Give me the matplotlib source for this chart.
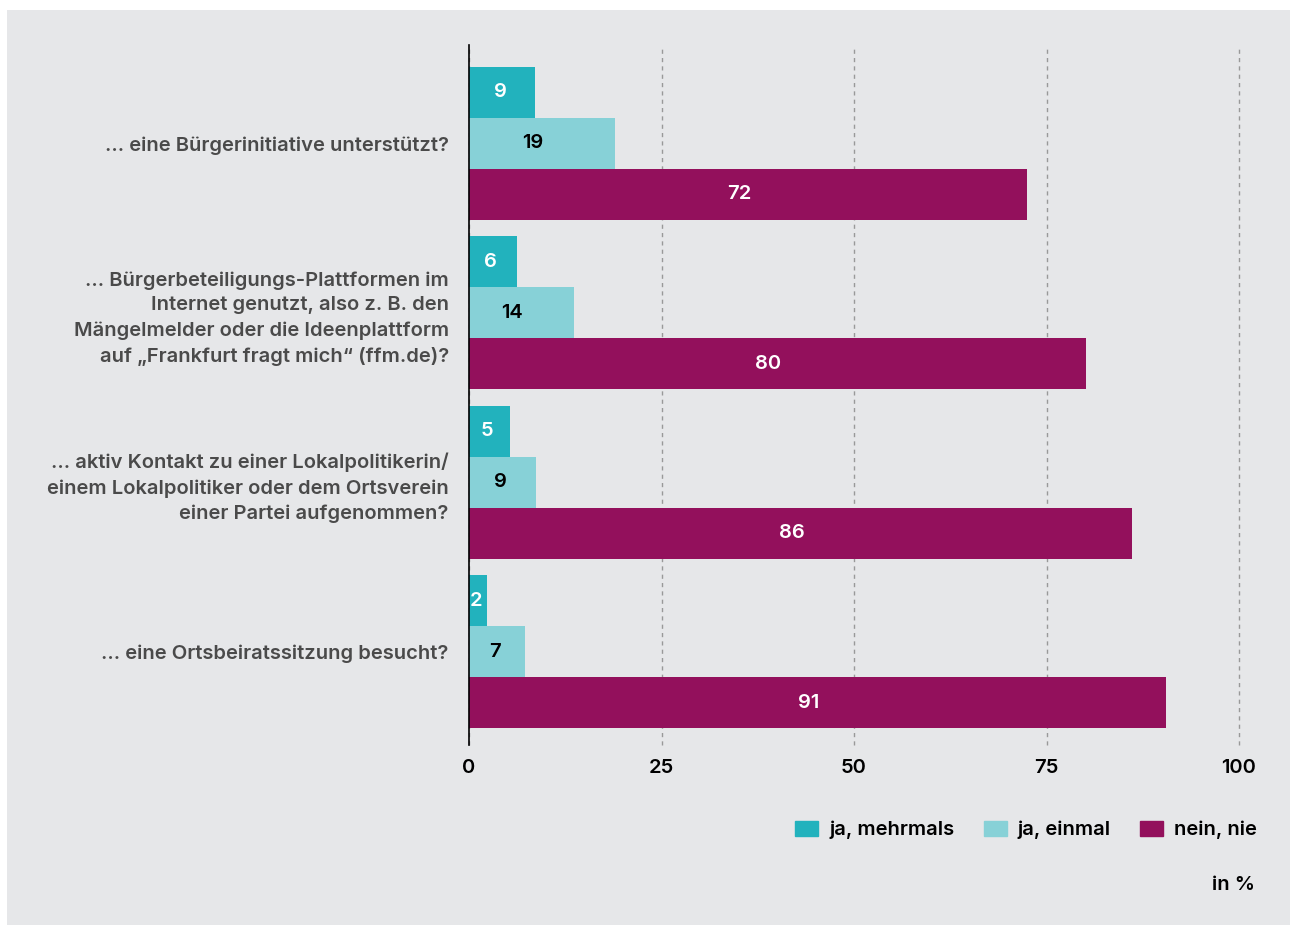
import matplotlib.pyplot as plt
import matplotlib.patches as mpatches
import numpy as np

plt.rcParams["font.family"] = ["Inter", "DejaVu Sans"]

QUESTIONS = [
    "… eine Bürgerinitiative unterstützt?",
    "… Bürgerbeteiligungs-Plattformen im\nInternet genutzt, also z. B. den\nMängelmelder oder die Ideenplattform\nauf „Frankfurt fragt mich“ (ffm.de)?",
    "… aktiv Kontakt zu einer Lokalpolitikerin/\neinem Lokalpolitiker oder dem Ortsverein\neiner Partei aufgenommen?",
    "… eine Ortsbeiratssitzung besucht?",
]
SERIES = ["ja, mehrmals", "ja, einmal", "nein, nie"]
MEHRMALS = [8.6, 6.2, 5.3, 2.3]
EINMAL = [19.0, 13.6, 8.7, 7.3]
NIE = [72.5, 80.1, 86.1, 90.5]
LABELS_MEHRMALS = ["9", "6", "5", "2"]
LABELS_EINMAL = ["19", "14", "9", "7"]
LABELS_NIE = ["72", "80", "86", "91"]

COLORS = ["#22b2bd", "#87d1d7", "#93105c"]
TEXT_COLORS = ["white", "black", "white"]
BG = "#e6e7e9"
FS = 14.5
W = "semibold"

fig = plt.figure(figsize=(12.9, 9.25), dpi=100)
fig.patch.set_facecolor("white")
fig.patches.append(mpatches.Rectangle((7 / 1290, 0), 1 - 7 / 1290, 915 / 925,
                                      transform=fig.transFigure, facecolor=BG,
                                      edgecolor="none", zorder=-10))

ax = fig.add_axes([469 / 1290, 1 - 745 / 925, (1239 - 469) / 1290, 700 / 925])
ax.set_facecolor("none")

y = np.arange(len(QUESTIONS))
h = 0.301
values = [MEHRMALS, EINMAL, NIE]
labels = [LABELS_MEHRMALS, LABELS_EINMAL, LABELS_NIE]
for k in range(3):
    pos = y + (k - 1) * h
    ax.barh(pos, values[k], height=h, color=COLORS[k], label=SERIES[k], zorder=3)
    for yy, v, lab in zip(pos, values[k], labels[k]):
        dx = -9 if len(lab) > 1 else -2
        ax.annotate(lab, (v / 2, yy), xytext=(dx, 0), textcoords="offset pixels",
                    ha="center", va="center", color=TEXT_COLORS[k], fontsize=FS,
                    fontweight=W, zorder=4)

ax.set_xlim(0, 100)
ax.set_ylim(3.549, -0.581)
ax.set_xticks([0, 25, 50, 75, 100])
ax.tick_params(axis="x", length=0, pad=10, labelsize=FS)
ax.tick_params(axis="y", length=0, pad=14.5)
for t in ax.get_xticklabels():
    t.set_fontweight(W)
ax.set_yticks(y)
ax.set_yticklabels(QUESTIONS, fontsize=FS, color="#4a4a4a", fontweight=W,
                   linespacing=1.47)
ax.grid(axis="x", color="#999999", linestyle=(0, (3, 3)), linewidth=1, zorder=0)
for line in ax.get_xgridlines():
    line.set_clip_on(False)
for s in ["top", "right", "bottom"]:
    ax.spines[s].set_visible(False)
ax.spines["left"].set_color("black")
ax.spines["left"].set_linewidth(1.2)
ax.spines["left"].set_zorder(5)

handles = [mpatches.Patch(color=c, label=s) for c, s in zip(COLORS, SERIES)]
leg = fig.legend(handles=handles, loc="center right", bbox_to_anchor=(1257 / 1290, 1 - 830 / 925),
                 ncol=3, frameon=False, fontsize=FS, handlelength=1.14, handleheight=0.8,
                 columnspacing=1.45, handletextpad=0.55, borderpad=0, borderaxespad=0)
for t in leg.get_texts():
    t.set_fontweight(W)

fig.text(1255 / 1290, 1 - 885 / 925, "in %", ha="right", va="center", fontsize=FS,
         fontweight=W)

fig.savefig("out.png", dpi=100, facecolor=fig.get_facecolor())
